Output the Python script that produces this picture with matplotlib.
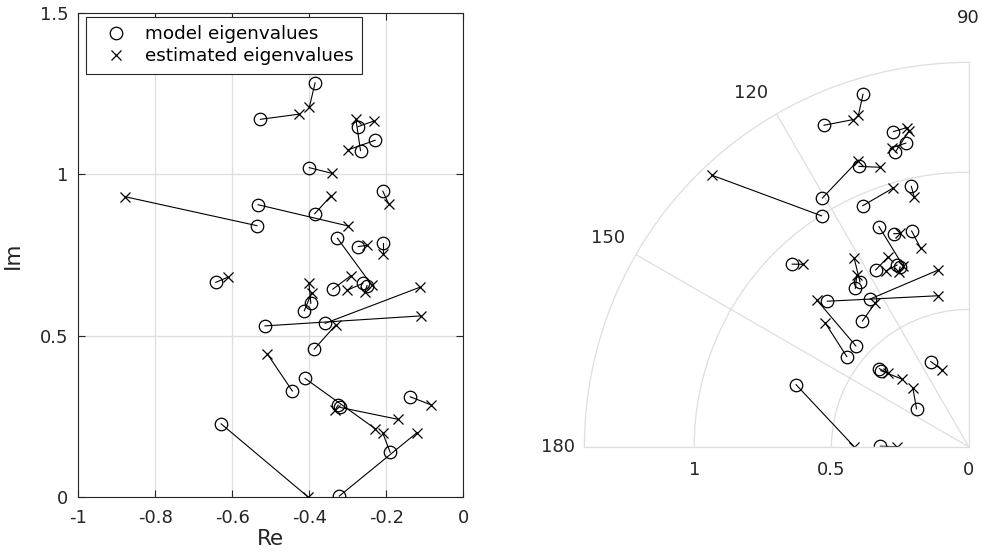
import numpy as np
import matplotlib
matplotlib.use('Agg')
import matplotlib.pyplot as plt

# ------------------------------------------------------------- data -----------------------------------------

# model eigenvalues (circles) - same in both panels
model_re = [-0.385, -0.527, -0.274, -0.267, -0.229, -0.400, -0.536, -0.533, -0.386, -0.209,
            -0.327, -0.273, -0.208, -0.339, -0.261, -0.250, -0.643, -0.396, -0.413, -0.515,
            -0.359, -0.387, -0.444, -0.411, -0.320, -0.325, -0.190, -0.322, -0.138, -0.629]
model_im = [1.284, 1.171, 1.148, 1.074, 1.106, 1.021, 0.841, 0.906, 0.878, 0.948,
            0.802, 0.776, 0.786, 0.644, 0.662, 0.655, 0.665, 0.600, 0.577, 0.530,
            0.538, 0.458, 0.328, 0.367, 0.277, 0.284, 0.138, 0.002, 0.310, 0.226]

# estimated eigenvalues of the left panel (crosses), same order as the model ones
est_re = [-0.400, -0.427, -0.232, -0.279, -0.300, -0.340, -0.879, -0.299, -0.344, -0.194,
          -0.238, -0.251, -0.208, -0.292, -0.301, -0.255, -0.612, -0.401, -0.394, -0.111,
          -0.1125, -0.331, -0.509, -0.229, -0.169, -0.333, -0.209, -0.120, -0.084, -0.404]
est_im = [1.208, 1.187, 1.166, 1.171, 1.076, 1.003, 0.931, 0.840, 0.933, 0.909,
          0.657, 0.780, 0.753, 0.686, 0.641, 0.636, 0.681, 0.664, 0.633, 0.561,
          0.650, 0.533, 0.443, 0.211, 0.240, 0.269, 0.197, 0.199, 0.285, 0.000]

# estimated eigenvalues of the right (polar) panel: magnitude and angle in degrees
polar_est_r = [1.273, 1.264, 1.184, 1.171, 1.125, 1.068, 1.361, 1.117, 0.982, 0.931,
               0.699, 0.816, 0.743, 0.751, 0.708, 0.685, 0.897, 0.803, 0.746, 0.561,
               0.653, 0.624, 0.691, 0.769, 0.347, 0.396, 0.296, 0.260, 0.295, 0.417]
polar_est_deg = [108.4, 109.5, 101.0, 100.7, 104.4, 107.6, 133.4, 111.2, 106.2, 102.3,
                 109.9, 107.8, 103.6, 113.0, 115.2, 111.8, 132.2, 121.3, 123.1, 101.4,
                 99.8, 123.2, 139.2, 136.0, 134.7, 137.6, 133.5, 180.0, 109.0, 180.0]

theta_ticks = [90, 120, 150, 180]
r_ticks = [0.5, 1.0]
r_labels = ['1', '0.5', '0']

model = np.array(model_re) + 1j * np.array(model_im)
est = np.array(est_re) + 1j * np.array(est_im)
p_th = np.deg2rad(polar_est_deg)
p_r = np.array(polar_est_r)

# ------------------------------------------------------------- figure -------------------------------------------------------------

plt.rcParams['font.family'] = ['DejaVu Sans']
plt.rcParams['axes.unicode_minus'] = False
txt = '#262626'
grid_c = '#dedede'

fig = plt.figure(figsize=(9.84, 5.58), dpi=100)

# left: complex plane
ax = fig.add_axes([78.3 / 984, 61.3 / 558, 385 / 984, 483.4 / 558])
for m, e in zip(model, est):
    ax.plot([m.real, e.real], [m.imag, e.imag], color='k', lw=0.8, zorder=2)
ax.plot(model.real, model.imag, 'o', ms=9, mfc='none', mec='k', mew=0.9, ls='none',
        label='model eigenvalues', zorder=3)
ax.plot(est.real, est.imag, 'x', ms=7, mec='k', mew=0.9, ls='none',
        label='estimated eigenvalues', zorder=3)

ax.set_xlim(-1, 0)
ax.set_ylim(0, 1.5)
ax.set_xticks([-1, -0.8, -0.6, -0.4, -0.2, 0])
ax.set_xticklabels(['-1', '-0.8', '-0.6', '-0.4', '-0.2', '0'])
ax.set_yticks([0, 0.5, 1, 1.5])
ax.set_yticklabels(['0', '0.5', '1', '1.5'])
ax.grid(True, color=grid_c, lw=0.9)
ax.set_axisbelow(True)
ax.tick_params(direction='in', length=5, top=True, right=True, labelsize=13,
               colors=txt, width=0.8)
ax.tick_params(axis='x', pad=9)
ax.tick_params(axis='y', pad=7)
for s in ax.spines.values():
    s.set_color(txt)
    s.set_linewidth(0.8)
ax.set_xlabel('Re', fontsize=15.5, color=txt, labelpad=1)
ax.set_ylabel('Im', fontsize=15.5, color=txt, labelpad=12)
leg = ax.legend(loc='upper left', bbox_to_anchor=(0.02, 0.992), borderaxespad=0,
                fontsize=13.2, frameon=True, fancybox=False, edgecolor=txt,
                framealpha=1, borderpad=0.45, labelspacing=0.22,
                handletextpad=0.35, handlelength=2.4)
leg.get_frame().set_linewidth(0.8)

# right: polar view
pa = fig.add_axes([584.4 / 984, 111.3 / 558, 384.3 / 984, 384.3 / 558], projection='polar')
pa.set_thetamin(90)
pa.set_thetamax(180)
pa.set_rlim(0, 1.4)
m_th = np.angle(model)
m_r = np.abs(model)
for i in range(len(model)):
    pa.plot([m_th[i], p_th[i]], [m_r[i], p_r[i]], color='k', lw=0.8, zorder=2)
pa.plot(m_th, m_r, 'o', ms=9, mfc='none', mec='k', mew=0.9, ls='none', zorder=3)
pa.plot(p_th, p_r, 'x', ms=7, mec='k', mew=0.9, ls='none', zorder=3)

pa.set_thetagrids(theta_ticks, labels=[])
pa.set_rgrids(r_ticks, labels=[])
pa.grid(True, color=grid_c, lw=0.9)
for s in pa.spines.values():
    s.set_color(grid_c)
    s.set_linewidth(0.9)
pa.tick_params(length=0)

# angle labels, placed just outside the outer arc
lab_pos = {90: (1.56, 90), 120: (1.513, 121.6), 150: (1.517, 150), 180: (1.495, 180)}
for ang in theta_ticks:
    rr, aa = lab_pos[ang]
    pa.text(np.deg2rad(aa), rr, str(ang), ha='center', va='center', fontsize=13,
            color=txt, clip_on=False)
for r, lab in zip([1.0, 0.5, 0.0], r_labels):
    pa.annotate(lab, xy=(np.pi, r), xytext=(0, -17), textcoords='offset points',
                ha='center', va='center', fontsize=13, color=txt, annotation_clip=False)

fig.savefig('out.png', dpi=100)
